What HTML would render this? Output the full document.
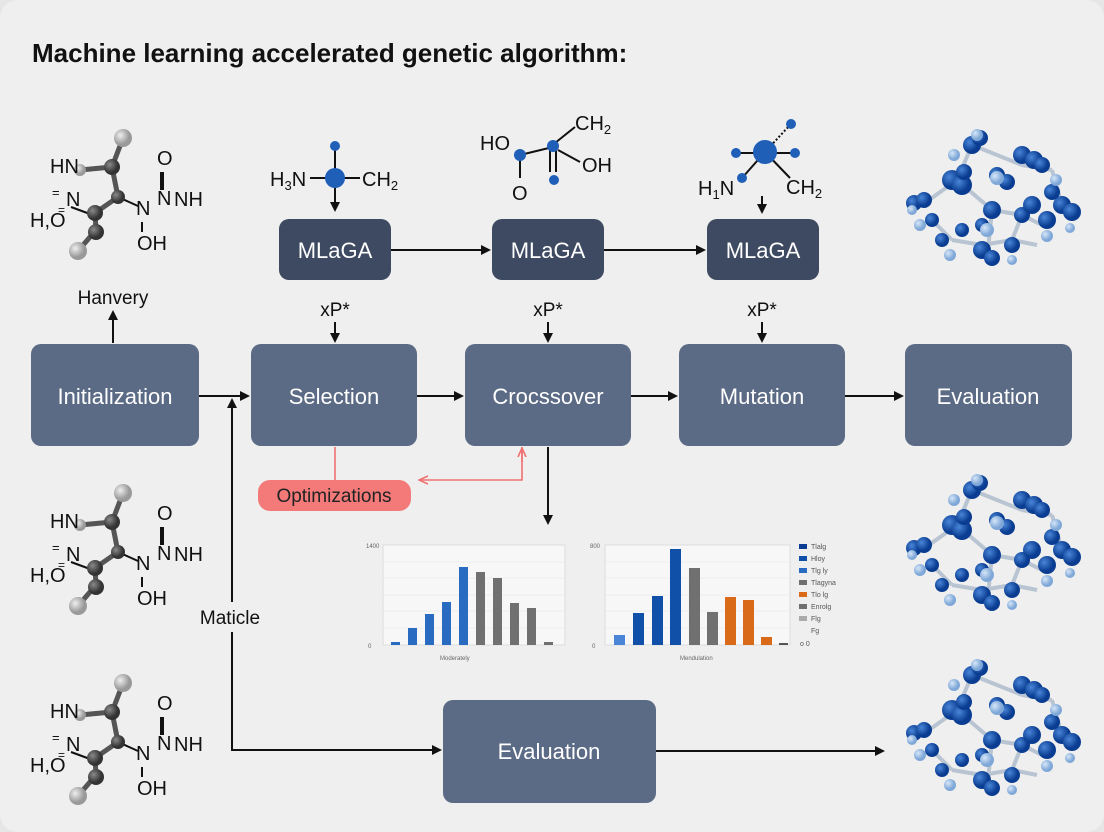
<!DOCTYPE html>
<html><head><meta charset="utf-8"><style>
html,body{margin:0;padding:0;background:#e6e6e6}
svg{display:block}
text{font-family:"Liberation Sans","DejaVu Sans",sans-serif}
</style></head><body>
<svg width="1104" height="832" viewBox="0 0 1104 832" xmlns="http://www.w3.org/2000/svg">
<defs>
<marker id="ah" markerWidth="10" markerHeight="10" refX="8" refY="5" orient="auto" markerUnits="userSpaceOnUse"><path d="M0,0 L10,5 L0,10 z" fill="#111"/></marker>
<marker id="ahp" markerWidth="10" markerHeight="10" refX="8" refY="5" orient="auto" markerUnits="userSpaceOnUse"><path d="M0,1 L9,5 L0,9" fill="none" stroke="#f07070" stroke-width="1.6"/></marker>
<radialGradient id="gd" cx="35%" cy="35%"><stop offset="0" stop-color="#8a8a8a"/><stop offset="1" stop-color="#333"/></radialGradient>
<radialGradient id="gl" cx="35%" cy="35%"><stop offset="0" stop-color="#eee"/><stop offset="1" stop-color="#999"/></radialGradient>
<radialGradient id="gb" cx="35%" cy="35%"><stop offset="0" stop-color="#4a86d8"/><stop offset="1" stop-color="#0a3d91"/></radialGradient>
<radialGradient id="gbl" cx="35%" cy="35%"><stop offset="0" stop-color="#d6e6f8"/><stop offset="1" stop-color="#7fa8d8"/></radialGradient>
<g id="mol">
 <g stroke="#555" stroke-width="5">
  <line x1="123" y1="138" x2="112" y2="167"/><line x1="80" y1="170" x2="112" y2="167"/>
  <line x1="112" y1="167" x2="118" y2="197"/><line x1="118" y1="197" x2="95" y2="213"/>
  <line x1="95" y1="213" x2="96" y2="230"/><line x1="96" y1="230" x2="78" y2="251"/>
 </g>
 <line x1="118" y1="197" x2="138" y2="206" stroke="#111" stroke-width="2"/>
 <line x1="71" y1="207" x2="90" y2="214" stroke="#111" stroke-width="2"/>
 <circle cx="123" cy="138" r="9" fill="url(#gl)"/><circle cx="112" cy="167" r="8" fill="url(#gd)"/>
 <circle cx="80" cy="170" r="6" fill="url(#gl)"/><circle cx="118" cy="197" r="7" fill="url(#gd)"/>
 <circle cx="95" cy="213" r="8" fill="url(#gd)"/><circle cx="96" cy="232" r="8" fill="url(#gd)"/>
 <circle cx="78" cy="251" r="9" fill="url(#gl)"/>
 <g font-size="20" fill="#111">
  <text x="50" y="173">HN</text><text x="66" y="206">N</text><text x="52" y="197" font-size="13">=</text>
  <text x="30" y="227">H,O</text><text x="58" y="214" font-size="12">=</text>
  <text x="136" y="215">N</text><text x="157" y="165">O</text><text x="157" y="205">N</text>
  <text x="174" y="206">NH</text><text x="137" y="250">OH</text>
 </g>
 <rect x="160" y="172" width="4" height="18" fill="#111"/>
 <line x1="142" y1="232" x2="142" y2="222" stroke="#111" stroke-width="2"/>
</g>
<g id="clu">
 <g stroke="#b9c4d2" stroke-width="4">
  <line x1="-70" y1="5" x2="-35" y2="-20"/><line x1="-35" y1="-20" x2="-20" y2="-55"/><line x1="-20" y1="-55" x2="30" y2="-35"/>
  <line x1="30" y1="-35" x2="60" y2="-30"/><line x1="60" y1="-30" x2="70" y2="5"/><line x1="-35" y1="-20" x2="0" y2="10"/>
  <line x1="0" y1="10" x2="30" y2="15"/><line x1="30" y1="15" x2="50" y2="25"/><line x1="-60" y1="20" x2="-40" y2="40"/>
  <line x1="-40" y1="40" x2="-10" y2="45"/><line x1="-10" y1="45" x2="20" y2="40"/><line x1="20" y1="40" x2="30" y2="15"/>
  <line x1="0" y1="10" x2="-5" y2="60"/><line x1="20" y1="40" x2="45" y2="45"/>
 </g>
 <g fill="url(#gb)">
  <circle cx="-20" cy="-55" r="9"/><circle cx="-12" cy="-62" r="8"/><circle cx="30" cy="-45" r="9"/><circle cx="42" cy="-40" r="9"/>
  <circle cx="50" cy="-35" r="8"/><circle cx="-40" cy="-20" r="10"/><circle cx="-30" cy="-15" r="10"/><circle cx="-28" cy="-28" r="8"/>
  <circle cx="-78" cy="3" r="8"/><circle cx="-68" cy="0" r="8"/><circle cx="-60" cy="20" r="7"/><circle cx="0" cy="10" r="9"/>
  <circle cx="30" cy="15" r="8"/><circle cx="55" cy="20" r="9"/><circle cx="70" cy="5" r="9"/><circle cx="80" cy="12" r="9"/>
  <circle cx="-50" cy="40" r="7"/><circle cx="-30" cy="30" r="7"/><circle cx="-10" cy="25" r="7"/><circle cx="-10" cy="50" r="9"/>
  <circle cx="0" cy="58" r="8"/><circle cx="20" cy="45" r="8"/><circle cx="5" cy="-25" r="8"/><circle cx="15" cy="-18" r="8"/>
  <circle cx="40" cy="5" r="9"/><circle cx="60" cy="-8" r="8"/>
 </g>
 <g fill="url(#gbl)">
  <circle cx="-38" cy="-45" r="6"/><circle cx="-15" cy="-65" r="6"/><circle cx="64" cy="-20" r="6"/><circle cx="-80" cy="10" r="5"/>
  <circle cx="-72" cy="25" r="6"/><circle cx="-42" cy="55" r="6"/><circle cx="5" cy="-22" r="7"/><circle cx="-5" cy="30" r="7"/>
  <circle cx="55" cy="36" r="6"/><circle cx="20" cy="60" r="5"/><circle cx="78" cy="28" r="5"/>
 </g>
</g>
</defs>
<rect x="0" y="0" width="1104" height="832" rx="18" fill="#efefef"/>
<text x="32" y="62" font-size="26" font-weight="bold" fill="#111">Machine learning accelerated genetic algorithm:</text>

<use href="#mol"/>
<use href="#mol" transform="translate(0,355)"/>
<use href="#mol" transform="translate(0,545)"/>
<use href="#clu" transform="translate(992,200)"/>
<use href="#clu" transform="translate(992,545)"/>
<use href="#clu" transform="translate(992,730)"/>

<!-- molecule 1 top -->
<g fill="#111" font-size="20">
 <line x1="335" y1="148" x2="335" y2="210" stroke="#111" stroke-width="2" marker-end="url(#ah)"/>
 <line x1="310" y1="178" x2="360" y2="178" stroke="#111" stroke-width="2"/>
 <circle cx="335" cy="146" r="5" fill="#1f5fb8"/><circle cx="335" cy="178" r="10" fill="#1f5fb8"/>
 <text x="270" y="186">H<tspan font-size="13" dy="4">3</tspan><tspan dy="-4">N</tspan></text>
 <text x="362" y="186">CH<tspan font-size="13" dy="4">2</tspan></text>
</g>
<g fill="#111" font-size="20" stroke-width="2">
 <line x1="520" y1="155" x2="553" y2="147" stroke="#111"/><line x1="520" y1="160" x2="520" y2="178" stroke="#111"/>
 <line x1="550" y1="150" x2="550" y2="172" stroke="#111"/><line x1="556" y1="150" x2="556" y2="172" stroke="#111"/>
 <line x1="555" y1="143" x2="575" y2="127" stroke="#111"/><line x1="558" y1="150" x2="580" y2="162" stroke="#111"/>
 <circle cx="520" cy="155" r="6" fill="#1f5fb8"/><circle cx="553" cy="146" r="6" fill="#1f5fb8"/><circle cx="554" cy="180" r="5" fill="#1f5fb8"/>
 <text x="480" y="150">HO</text><text x="512" y="200">O</text><text x="582" y="172">OH</text>
 <text x="575" y="130">CH<tspan font-size="13" dy="4">2</tspan></text>
</g>
<g fill="#111" font-size="20" stroke-width="2">
 <line x1="736" y1="153" x2="795" y2="153" stroke="#111"/><line x1="765" y1="152" x2="742" y2="178" stroke="#111"/>
 <line x1="765" y1="152" x2="790" y2="178" stroke="#111"/><line x1="765" y1="152" x2="790" y2="125" stroke="#111" stroke-dasharray="2,2"/>
 <circle cx="765" cy="152" r="12" fill="#1f5fb8"/><circle cx="736" cy="153" r="5" fill="#1f5fb8"/><circle cx="795" cy="153" r="5" fill="#1f5fb8"/>
 <circle cx="791" cy="124" r="5" fill="#1f5fb8"/><circle cx="742" cy="178" r="5" fill="#1f5fb8"/>
 <text x="698" y="195">H<tspan font-size="13" dy="4">1</tspan><tspan dy="-4">N</tspan></text>
 <text x="786" y="194">CH<tspan font-size="13" dy="4">2</tspan></text>
 <line x1="762" y1="196" x2="762" y2="212" stroke="#111" marker-end="url(#ah)"/>
</g>

<!-- MLaGA -->
<g font-size="22" fill="#fff" text-anchor="middle">
 <rect x="279" y="219" width="112" height="61" rx="10" fill="#3d4a62"/><text x="335" y="258">MLaGA</text>
 <rect x="492" y="219" width="112" height="61" rx="10" fill="#3d4a62"/><text x="548" y="258">MLaGA</text>
 <rect x="707" y="219" width="112" height="61" rx="10" fill="#3d4a62"/><text x="763" y="258">MLaGA</text>
</g>
<g stroke="#111" stroke-width="2">
 <line x1="391" y1="250" x2="489" y2="250" marker-end="url(#ah)"/>
 <line x1="604" y1="250" x2="704" y2="250" marker-end="url(#ah)"/>
 <line x1="335" y1="322" x2="335" y2="341" marker-end="url(#ah)"/>
 <line x1="548" y1="322" x2="548" y2="341" marker-end="url(#ah)"/>
 <line x1="762" y1="322" x2="762" y2="341" marker-end="url(#ah)"/>
 <line x1="113" y1="343" x2="113" y2="312" marker-end="url(#ah)"/>
 <line x1="199" y1="396" x2="248" y2="396" marker-end="url(#ah)"/>
 <line x1="417" y1="396" x2="462" y2="396" marker-end="url(#ah)"/>
 <line x1="631" y1="396" x2="676" y2="396" marker-end="url(#ah)"/>
 <line x1="845" y1="396" x2="902" y2="396" marker-end="url(#ah)"/>
 <line x1="548" y1="447" x2="548" y2="523" marker-end="url(#ah)"/>
 <path d="M232,602 L232,400" fill="none" marker-end="url(#ah)"/>
 <path d="M232,632 L232,750 L440,750" fill="none" marker-end="url(#ah)"/>
 <line x1="656" y1="751" x2="883" y2="751" marker-end="url(#ah)"/>
</g>
<g font-size="19" fill="#111" text-anchor="middle">
 <text x="113" y="304">Hanvery</text>
 <text x="335" y="316">xP*</text><text x="548" y="316">xP*</text><text x="762" y="316">xP*</text>
 <text x="230" y="624">Maticle</text>
</g>
<g font-size="22" fill="#fff" text-anchor="middle">
 <rect x="31" y="344" width="168" height="102" rx="10" fill="#5b6a85"/><text x="115" y="404">Initialization</text>
 <rect x="251" y="344" width="166" height="102" rx="10" fill="#5b6a85"/><text x="334" y="404">Selection</text>
 <rect x="465" y="344" width="166" height="102" rx="10" fill="#5b6a85"/><text x="548" y="404">Crocssover</text>
 <rect x="679" y="344" width="166" height="102" rx="10" fill="#5b6a85"/><text x="762" y="404">Mutation</text>
 <rect x="905" y="344" width="167" height="102" rx="10" fill="#5b6a85"/><text x="988" y="404">Evaluation</text>
 <rect x="443" y="700" width="213" height="103" rx="10" fill="#5b6a85"/><text x="549" y="759">Evaluation</text>
</g>
<!-- optimizations -->
<line x1="335" y1="447" x2="335" y2="480" stroke="#f07070" stroke-width="1.6"/>
<path d="M522,447 L522,480 L420,480" fill="none" stroke="#f07070" stroke-width="1.6" marker-end="url(#ahp)"/>
<line x1="522" y1="462" x2="522" y2="449" stroke="#f07070" stroke-width="1.6" marker-end="url(#ahp)"/>
<rect x="258" y="480" width="153" height="31" rx="12" fill="#f47a7a"/>
<text x="334" y="502" font-size="19" fill="#222" text-anchor="middle">Optimizations</text>

<!-- chart 1 -->
<g>
 <rect x="383" y="545" width="182" height="100" fill="#f7f7f7" stroke="#ddd"/>
 <g stroke="#e4e4e4" stroke-width="0.6">
  <line x1="383" y1="562" x2="565" y2="562"/><line x1="383" y1="578" x2="565" y2="578"/><line x1="383" y1="595" x2="565" y2="595"/><line x1="383" y1="611" x2="565" y2="611"/><line x1="383" y1="628" x2="565" y2="628"/>
 </g>
 <g fill="#2a6bc2">
  <rect x="391" y="642" width="9" height="3"/><rect x="408" y="628" width="9" height="17"/><rect x="425" y="614" width="9" height="31"/>
  <rect x="442" y="602" width="9" height="43"/><rect x="459" y="567" width="9" height="78"/>
 </g>
 <g fill="#707070">
  <rect x="476" y="572" width="9" height="73"/><rect x="493" y="578" width="9" height="67"/><rect x="510" y="603" width="9" height="42"/>
  <rect x="527" y="608" width="9" height="37"/><rect x="544" y="642" width="9" height="3"/>
 </g>
 <g font-size="6" fill="#666"><text x="366" y="548">1400</text><text x="368" y="648">0</text><text x="440" y="660">Moderately</text></g>
</g>
<!-- chart 2 -->
<g>
 <rect x="605" y="545" width="185" height="100" fill="#f7f7f7" stroke="#ddd"/>
 <g stroke="#e4e4e4" stroke-width="0.6">
  <line x1="605" y1="562" x2="790" y2="562"/><line x1="605" y1="578" x2="790" y2="578"/><line x1="605" y1="595" x2="790" y2="595"/><line x1="605" y1="611" x2="790" y2="611"/><line x1="605" y1="628" x2="790" y2="628"/>
 </g>
 <rect x="614" y="635" width="11" height="10" fill="#4a86d8"/>
 <g fill="#1150a8">
  <rect x="633" y="613" width="11" height="32"/><rect x="652" y="596" width="11" height="49"/><rect x="670" y="549" width="11" height="96"/>
 </g>
 <g fill="#707070"><rect x="689" y="568" width="11" height="77"/><rect x="707" y="612" width="11" height="33"/></g>
 <g fill="#d86a1a"><rect x="725" y="597" width="11" height="48"/><rect x="743" y="600" width="11" height="45"/><rect x="761" y="637" width="11" height="8"/></g>
 <rect x="779" y="643" width="9" height="2" fill="#555"/>
 <g font-size="6" fill="#666"><text x="590" y="548">800</text><text x="592" y="648">0</text><text x="680" y="660">Mendulation</text></g>
 <g font-size="7" fill="#555">
  <rect x="799" y="544" width="8" height="5" fill="#0a3d91"/><text x="811" y="549">Tlalg</text>
  <rect x="799" y="556" width="8" height="5" fill="#1150a8"/><text x="811" y="561">Hloy</text>
  <rect x="799" y="568" width="8" height="5" fill="#2a6bc2"/><text x="811" y="573">Tlg ly</text>
  <rect x="799" y="580" width="8" height="5" fill="#707070"/><text x="811" y="585">Tlagyna</text>
  <rect x="799" y="592" width="8" height="5" fill="#d86a1a"/><text x="811" y="597">Tlo lg</text>
  <rect x="799" y="604" width="8" height="5" fill="#707070"/><text x="811" y="609">Enrolg</text>
  <rect x="799" y="616" width="8" height="5" fill="#aaa"/><text x="811" y="621">Flg</text>
  <text x="811" y="633">Fg</text><text x="800" y="646">o 0</text>
 </g>
</g>
</svg>
</body></html>
